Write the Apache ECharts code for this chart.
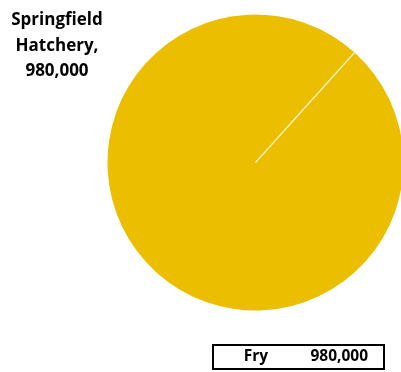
<!DOCTYPE html>
<html>
<head>
<meta charset="utf-8">
<style>
  html, body { margin: 0; padding: 0; background: #ffffff; }
  #chart { width: 401px; height: 372px; }
</style>
<script src="https://cdn.jsdelivr.net/npm/echarts@6/dist/echarts.min.js"></script>
</head>
<body>
<div id="chart"></div>
<script>
// Production by hatchery, fry stage
const seriesName = 'Fry';
const categories = ['Springfield Hatchery'];
const values = [980000];

const fmt = v => v.toLocaleString('en-US');
const FONT = '"Open Sans", Lato, sans-serif';
const START = 48;

const chart = echarts.init(document.getElementById('chart'), null, { renderer: 'canvas' });

chart.setOption({
  animation: false,
  backgroundColor: '#ffffff',
  legend: {
    show: true,
    data: [seriesName],
    left: 213,
    top: 345,
    orient: 'horizontal',
    icon: 'none',
    itemWidth: 0,
    itemHeight: 0,
    padding: [4, 16, 4, 0],
    borderColor: '#000000',
    borderWidth: 2,
    borderRadius: 0,
    selectedMode: false,
    formatter: name => '{a|' + name + '}{b|' + fmt(values.reduce((s, v) => s + v, 0)) + '}',
    textStyle: {
      rich: {
        a: { width: 50, align: 'right', fontFamily: FONT, fontWeight: 'bold', fontSize: 15.5, color: '#000', lineHeight: 16 },
        b: { width: 100, align: 'right', fontFamily: FONT, fontWeight: 'bold', fontSize: 15.5, color: '#000', lineHeight: 16 }
      }
    }
  },
  series: [{
    name: seriesName,
    type: 'pie',
    center: [255.5, 162.5],
    radius: 148,
    startAngle: START,
    clockwise: true,
    color: ['#EBBF00'],
    itemStyle: { borderWidth: 0 },
    emphasis: { disabled: true },
    label: {
      show: true,
      position: 'outside',
      formatter: p => categories[p.dataIndex].replace(' ', '\n') + ',\n' + fmt(p.value),
      fontFamily: FONT,
      fontWeight: 'bold',
      fontSize: 17,
      lineHeight: 25.5,
      color: '#000000',
      align: 'center'
    },
    labelLine: { show: false },
    labelLayout: { x: 57, y: 46, align: 'center', verticalAlign: 'middle' },
    data: categories.map((c, i) => ({ name: seriesName, value: values[i] }))
  }]
});

// White seam along the slice's starting edge, taken from the pie layout
function drawSeam() {
  const layout = chart.getModel().getSeriesByIndex(0).getData().getItemLayout(0);
  const a = layout.startAngle;
  chart.setOption({
    graphic: [{
      type: 'line',
      silent: true,
      z: 10,
      shape: {
        x1: layout.cx,
        y1: layout.cy,
        x2: layout.cx + layout.r * Math.cos(a),
        y2: layout.cy + layout.r * Math.sin(a)
      },
      style: { stroke: '#FFF3C8', lineWidth: 1.2 }
    }]
  });
}
drawSeam();
</script>
</body>
</html>
